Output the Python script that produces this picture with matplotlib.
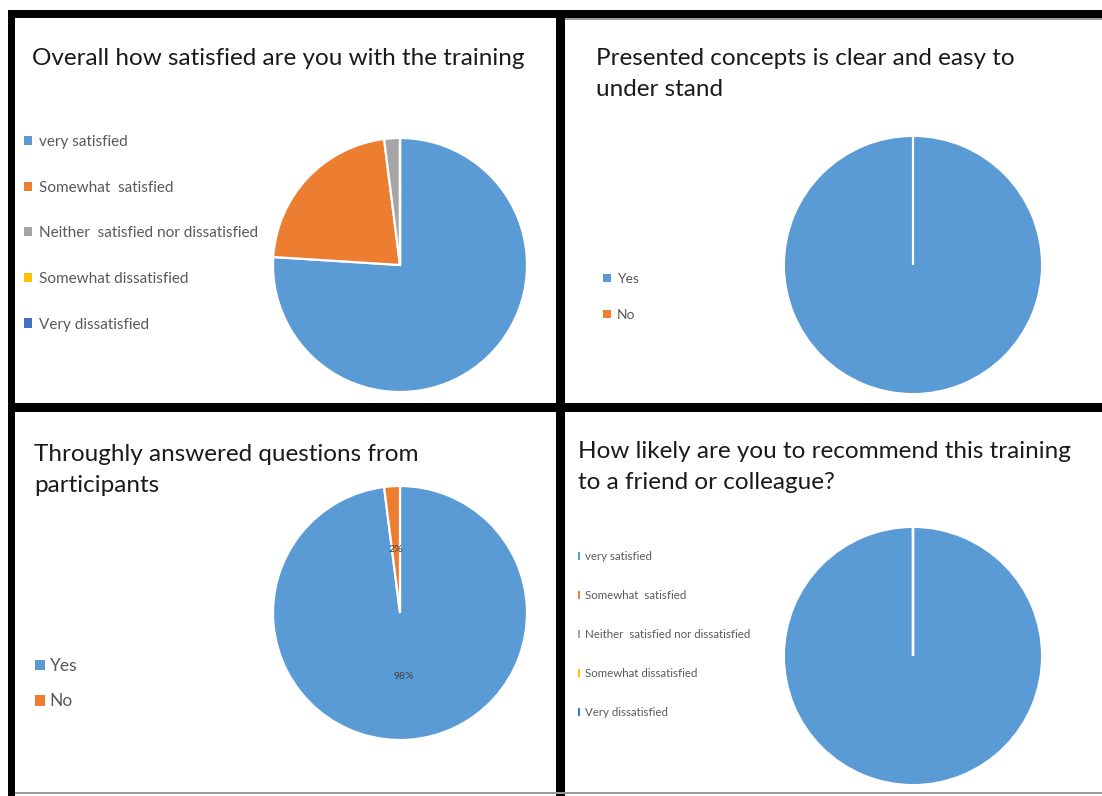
import matplotlib
matplotlib.use('Agg')
import matplotlib.pyplot as plt
from matplotlib.patches import Rectangle, Patch

# ---------------- data ----------------
satisfaction_labels = ['very satisfied', 'Somewhat  satisfied',
                       'Neither  satisfied nor dissatisfied',
                       'Somewhat dissatisfied', 'Very dissatisfied']
overall_values = [76, 22, 2, 0, 0]
recommend_values = [100, 0, 0, 0, 0]
yes_no_labels = ['Yes', 'No']
clear_values = [100, 0]
answered_values = [98, 2]

colors5 = ['#5B9BD5', '#ED7D31', '#A5A5A5', '#FFC000', '#4472C4']
colors2 = ['#5B9BD5', '#ED7D31']

titles = ['Overall how satisfied are you with the training',
          'Presented concepts is clear and easy to\nunder stand',
          'Throughly answered questions from\nparticipants',
          'How likely are you to recommend this training\nto a friend or colleague?']

# ---------------- figure ----------------
W, H = 1102, 796
fig = plt.figure(figsize=(W / 100, H / 100), dpi=100)
fig.patch.set_facecolor('white')
FONT = ['Lato', 'DejaVu Sans']
TXT = '#595959'


def fx(x):
    return x / W


def fy(y):
    return 1 - y / H


def pie_panel(cx, cy, r, values, colors, pct=False):
    ax = fig.add_axes([fx(cx - r), fy(cy + r), 2 * r / W, 2 * r / H])
    kw = {}
    if pct:
        kw = dict(autopct='%1.0f%%', pctdistance=0.5,
                  textprops=dict(color='#404040', fontsize=7.5, family=FONT))
    res = ax.pie(values, colors=colors, startangle=90, counterclock=False,
                 radius=1, wedgeprops=dict(edgecolor='white', linewidth=1.6),
                 **kw)
    for w in res[0]:
        w.set_clip_on(False)
        if abs(w.theta2 - w.theta1) >= 360 - 1e-9:
            w.set_edgecolor('none')
    ax.set_xlim(-1, 1)
    ax.set_ylim(-1, 1)
    ax.set_aspect('equal')
    ax.axis('off')
    return ax


def legend(x, y, labels, colors, size, spacing, hl=0.55, hh=0.55, pad=0.45):
    handles = [Patch(facecolor=c, edgecolor='none') for c in colors]
    fig.legend(handles, labels, loc='upper left',
               bbox_to_anchor=(fx(x), fy(y)), frameon=False,
               handlelength=hl, handleheight=hh, handletextpad=pad,
               labelspacing=spacing, borderpad=0, borderaxespad=0,
               prop=dict(family=FONT, size=size), labelcolor=TXT)


# pies
pie_panel(400, 265, 127, overall_values, colors5)
pie_panel(913, 265, 128, clear_values, colors2)
pie_panel(400, 613, 127, answered_values, colors2, pct=True)
pie_panel(913, 656, 128, recommend_values, colors5)

# legends
legend(24, 135, satisfaction_labels, colors5, 11, 2.07)
legend(603, 273, yes_no_labels, colors2, 10, 1.71)
legend(35, 658, yes_no_labels, colors2, 12.5, 1.12, pad=0.3)
legend(578, 551, satisfaction_labels, colors5, 8.3, 2.42, hl=0.2, hh=0.7)

# titles (baseline of the last line)
tkw = dict(fontsize=17.5, family=FONT, color='#1a1a1a', va='baseline',
           ha='left', linespacing=1.58)
fig.text(fx(32), fy(65), titles[0], **tkw)
fig.text(fx(596), fy(96), titles[1], **tkw)
fig.text(fx(34), fy(492), titles[2], **tkw)
fig.text(fx(578), fy(489), titles[3], **tkw)


# panel borders (black frame)
def bar(x0, y0, x1, y1, color='black'):
    fig.patches.append(Rectangle((fx(x0), fy(y1)), (x1 - x0) / W,
                                 (y1 - y0) / H, transform=fig.transFigure,
                                 facecolor=color, edgecolor='none', zorder=5))


bar(8, 10, 15, 796)
bar(8, 10, 1102, 18)
bar(556, 10, 565, 796)
bar(8, 403, 1102, 412)
bar(15, 792, 1102, 794, color='#9a9a9a')
bar(565, 18, 1102, 19.5, color='#9a9a9a')

fig.savefig('out.png', dpi=100, facecolor='white')
